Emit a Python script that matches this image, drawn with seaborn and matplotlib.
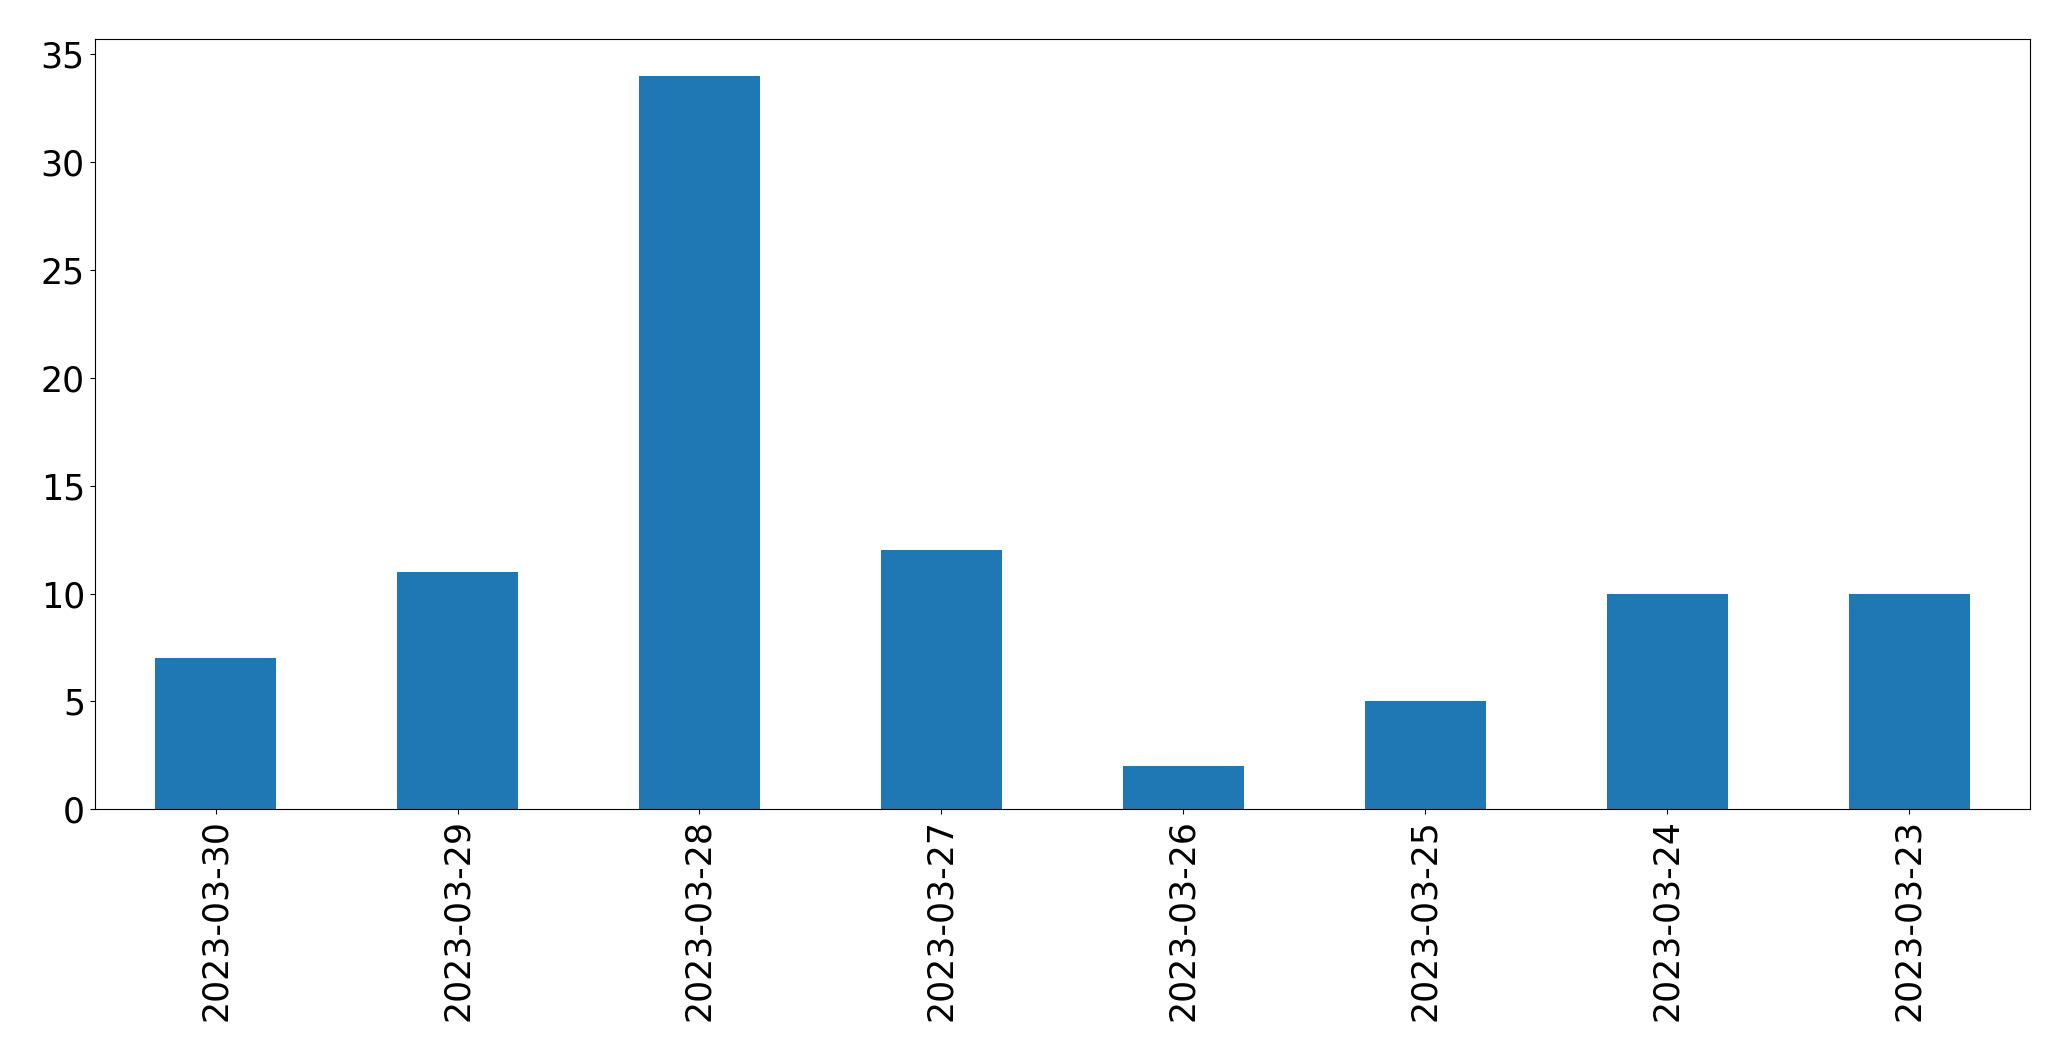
import matplotlib
matplotlib.use("Agg")
import matplotlib.pyplot as plt
import seaborn as sns
import pandas as pd

dates = ["2023-03-30", "2023-03-29", "2023-03-28", "2023-03-27",
         "2023-03-26", "2023-03-25", "2023-03-24", "2023-03-23"]
counts = [7, 11, 34, 12, 2, 5, 10, 10]

df = pd.DataFrame({"date": dates, "count": counts})

plt.rcParams["font.family"] = ["DejaVu Sans"]
fig = plt.figure(figsize=(20.71, 10.61), dpi=100)
ax = fig.add_axes([0.0457, 0.2372, 0.9345, 0.7258])
sns.barplot(data=df, x="date", y="count", ax=ax, width=0.5,
            color="#1f77b4", saturation=1, order=dates, linewidth=0)
ax.set_xlabel("")
ax.set_ylabel("")
ax.set_xlim(-0.5, len(dates) - 0.5)
ax.set_ylim(0, 35.7)
ax.tick_params(axis="both", labelsize=25)
ax.tick_params(axis="x", labelrotation=90)
for s in ax.spines.values():
    s.set_visible(True)
    s.set_color("black")
fig.savefig("out.png", dpi=100)
